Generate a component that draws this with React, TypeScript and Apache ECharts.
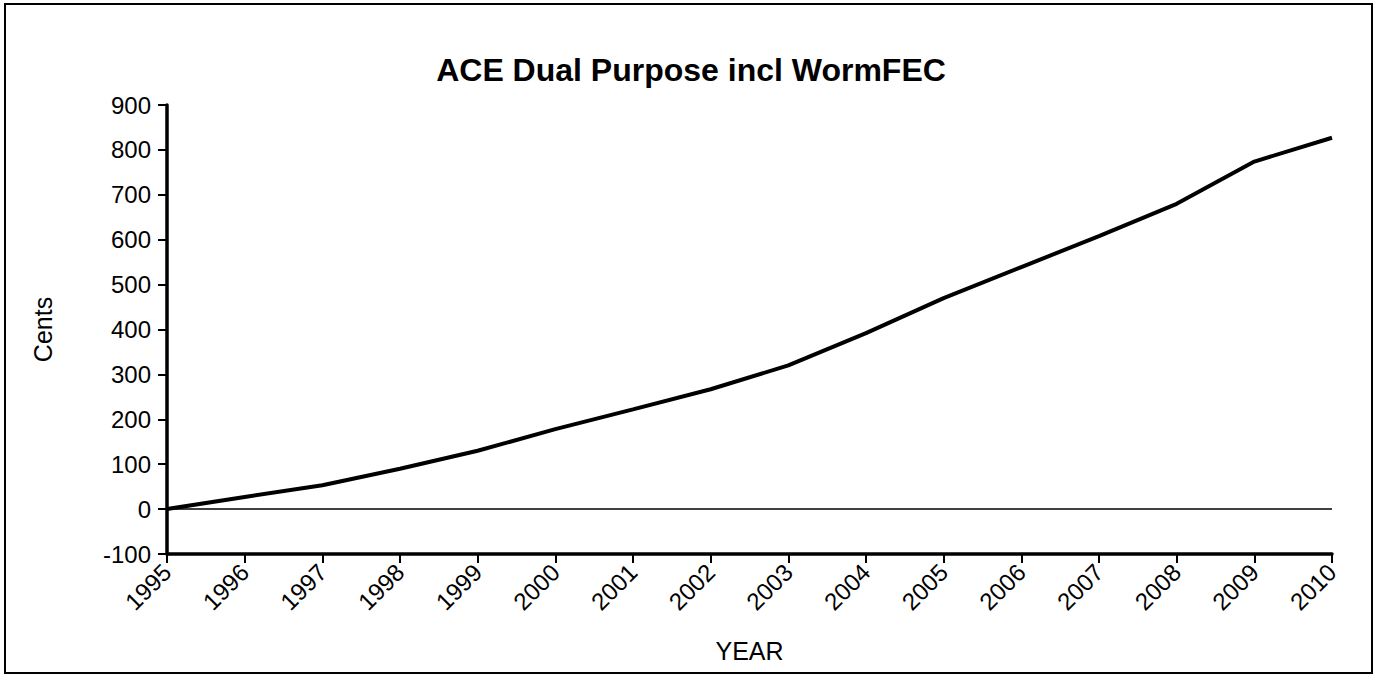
import React, { useEffect, useRef } from "react";
import * as echarts from "echarts";

const years = ["1995","1996","1997","1998","1999","2000","2001","2002","2003","2004","2005","2006","2007","2008","2009","2010"];
const cents = [0, 27, 53, 90, 130, 178, 222, 267, 320, 392, 470, 539, 608, 680, 774, 827];
const yTicks = { min: -100, max: 900, interval: 100 };
const titleText = "ACE Dual Purpose incl WormFEC";
const xName = "YEAR";
const yName = "Cents";

const FONT = "'Liberation Sans', Arial, Helvetica, sans-serif";

export default function App() {
  const ref = useRef<HTMLDivElement>(null);
  useEffect(() => {
    if (!ref.current) return;
    const chart = echarts.init(ref.current, null, { renderer: "svg" });
    chart.setOption({
      animation: false,
      backgroundColor: "#fff",
      textStyle: { fontFamily: FONT, color: "#000" },
      title: {
        text: titleText,
        left: "center",
        top: 49,
        textStyle: { fontFamily: FONT, fontSize: 32, fontWeight: "bold", color: "#000" },
      },
      graphic: [
        {
          type: "rect",
          shape: { x: 5, y: 4, width: 1367, height: 669 },
          style: { fill: "none", stroke: "#000", lineWidth: 2 },
          silent: true,
        },
      ],
      grid: { left: 167, right: 50, top: 105, bottom: 121, containLabel: false },
      xAxis: {
        type: "category",
        data: years,
        boundaryGap: false,
        name: xName,
        nameLocation: "middle",
        nameGap: 84,
        nameTextStyle: { fontFamily: FONT, fontSize: 25, color: "#000" },
        axisLine: { onZero: false, lineStyle: { color: "#000", width: 3.5 } },
        axisTick: { show: true, length: 9, lineStyle: { color: "#000", width: 2 } },
        axisLabel: {
          rotate: 45,
          margin: 14,
          verticalAlign: "middle",
          fontFamily: FONT,
          fontSize: 24,
          color: "#000",
          interval: 0,
        },
        splitLine: { show: false },
      },
      yAxis: {
        type: "value",
        min: yTicks.min,
        max: yTicks.max,
        interval: yTicks.interval,
        name: yName,
        nameLocation: "middle",
        nameGap: 112,
        nameTextStyle: { fontFamily: FONT, fontSize: 25, color: "#000" },
        axisLine: { show: true, lineStyle: { color: "#000", width: 3.5 } },
        axisTick: { show: true, length: 9, lineStyle: { color: "#000", width: 2 } },
        axisLabel: { margin: 16, fontFamily: FONT, fontSize: 24, color: "#000" },
        splitLine: { show: false },
      },
      series: [
        {
          type: "line",
          data: cents,
          symbol: "none",
          lineStyle: { color: "#000", width: 4 },
          markLine: {
            silent: true,
            symbol: "none",
            label: { show: false },
            lineStyle: { color: "#000", width: 1.5, type: "solid" },
            data: [{ yAxis: 0 }],
          },
        },
      ],
    });
    return () => chart.dispose();
  }, []);
  return (
    <div
      ref={ref}
      style={{ position: "absolute", left: 0, top: 0, width: 1382, height: 675 }}
    />
  );
}
